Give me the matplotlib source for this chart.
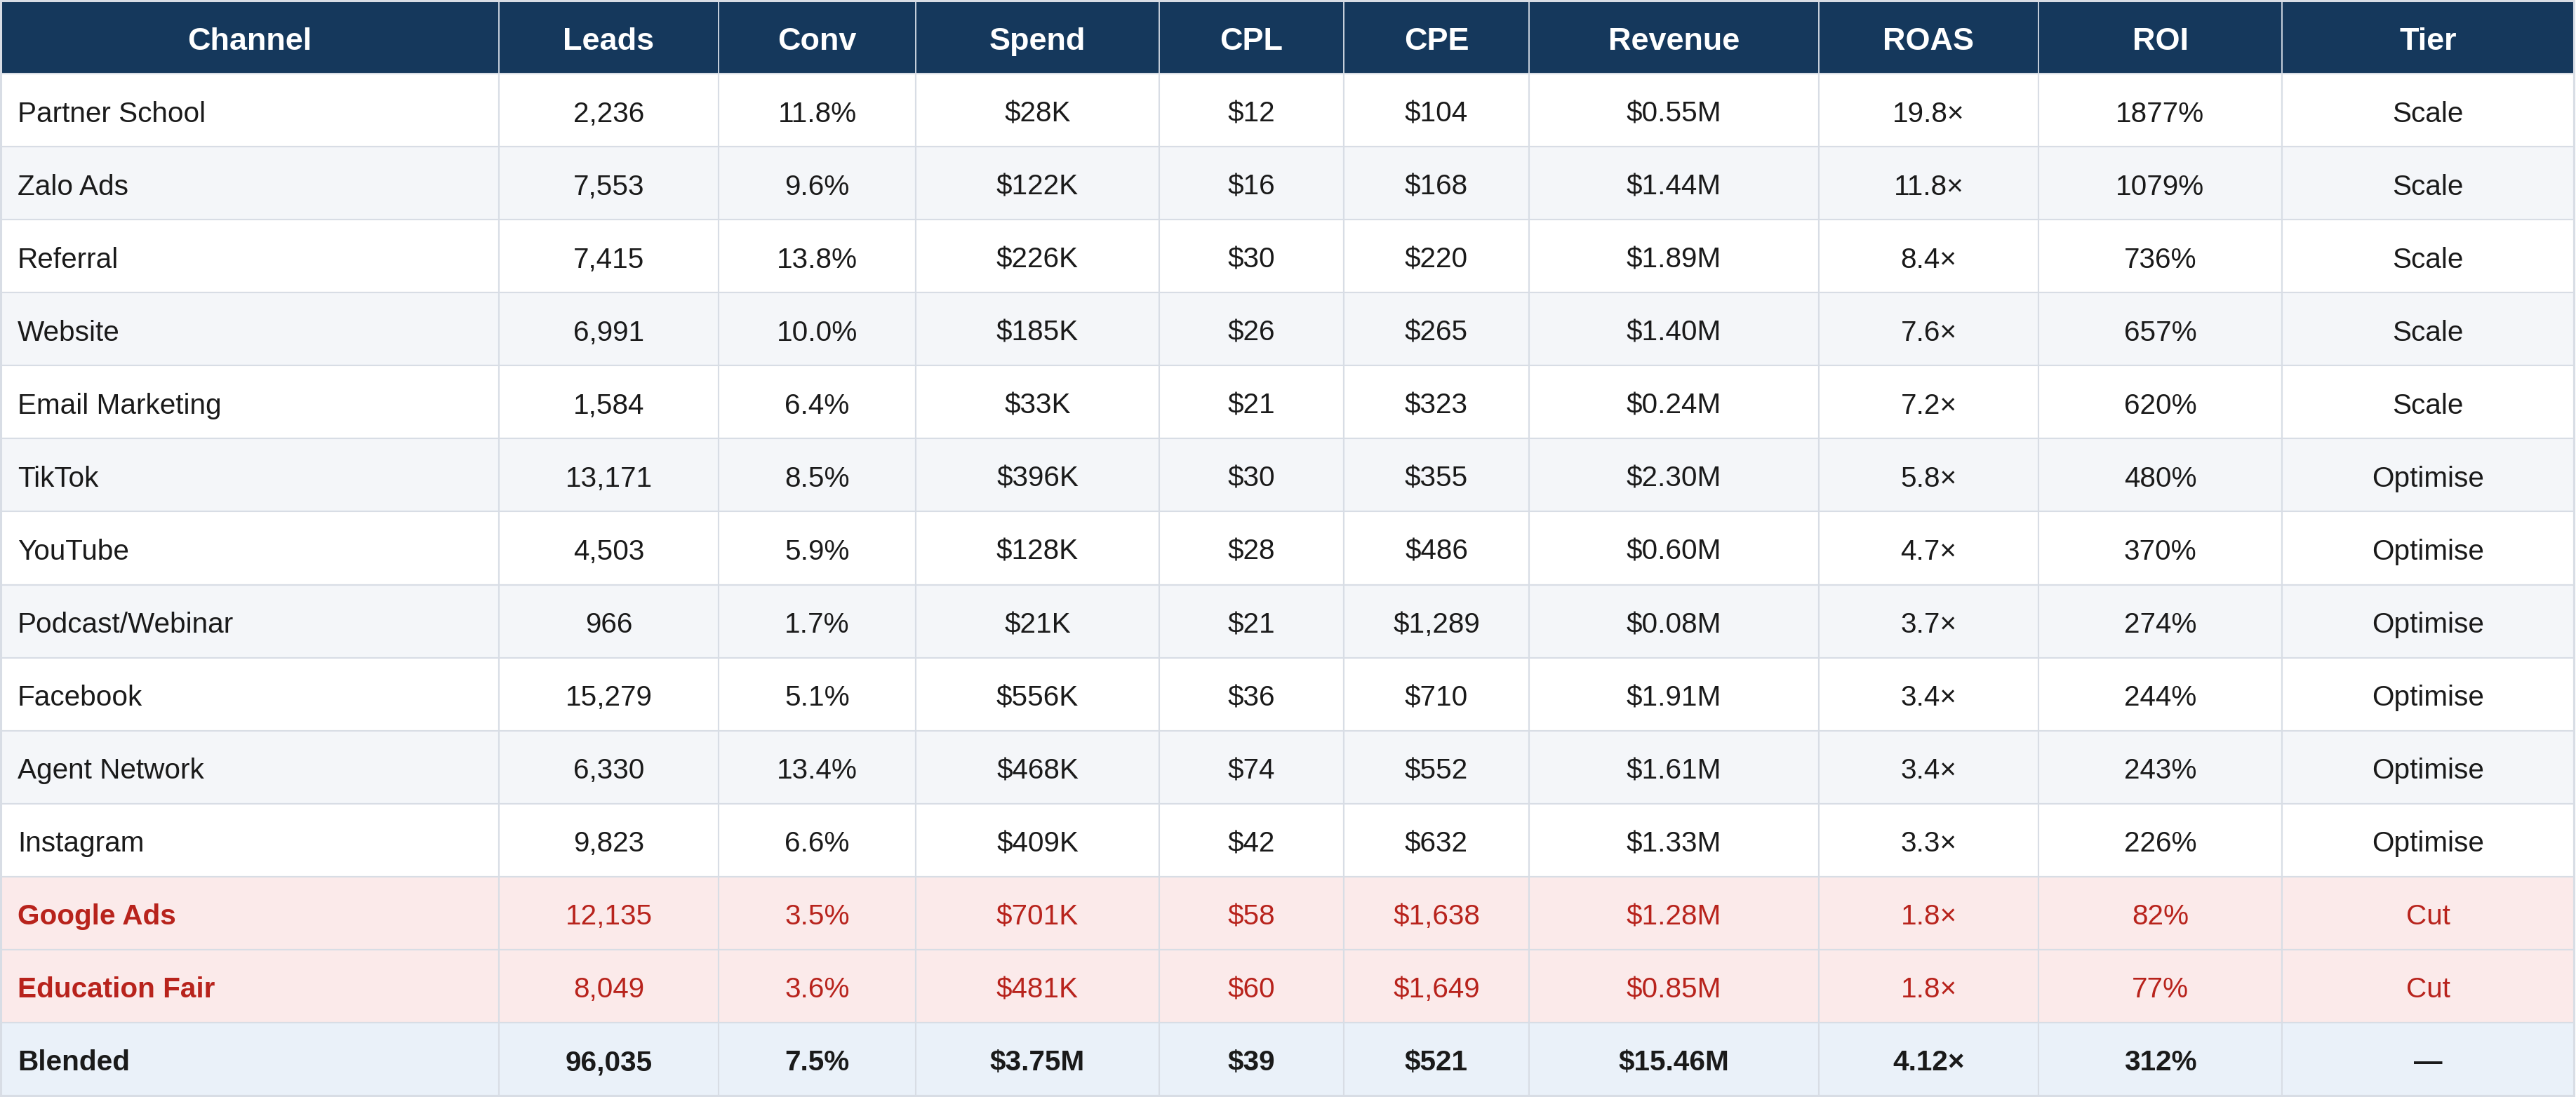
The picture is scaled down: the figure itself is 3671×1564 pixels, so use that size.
import matplotlib
matplotlib.use("Agg")
import matplotlib.pyplot as plt
from matplotlib.patches import Rectangle

# ---------------- data ----------------
columns = ["Channel", "Leads", "Conv", "Spend", "CPL", "CPE", "Revenue", "ROAS", "ROI", "Tier"]
channels = ["Partner School", "Zalo Ads", "Referral", "Website", "Email Marketing", "TikTok",
            "YouTube", "Podcast/Webinar", "Facebook", "Agent Network", "Instagram",
            "Google Ads", "Education Fair", "Blended"]
leads = ["2,236", "7,553", "7,415", "6,991", "1,584", "13,171", "4,503", "966", "15,279",
         "6,330", "9,823", "12,135", "8,049", "96,035"]
conv = ["11.8%", "9.6%", "13.8%", "10.0%", "6.4%", "8.5%", "5.9%", "1.7%", "5.1%", "13.4%",
        "6.6%", "3.5%", "3.6%", "7.5%"]
spend = ["$28K", "$122K", "$226K", "$185K", "$33K", "$396K", "$128K", "$21K", "$556K",
         "$468K", "$409K", "$701K", "$481K", "$3.75M"]
cpl = ["$12", "$16", "$30", "$26", "$21", "$30", "$28", "$21", "$36", "$74", "$42", "$58",
       "$60", "$39"]
cpe = ["$104", "$168", "$220", "$265", "$323", "$355", "$486", "$1,289", "$710", "$552",
       "$632", "$1,638", "$1,649", "$521"]
revenue = ["$0.55M", "$1.44M", "$1.89M", "$1.40M", "$0.24M", "$2.30M", "$0.60M", "$0.08M",
           "$1.91M", "$1.61M", "$1.33M", "$1.28M", "$0.85M", "$15.46M"]
roas = ["19.8×", "11.8×", "8.4×", "7.6×", "7.2×", "5.8×", "4.7×", "3.7×", "3.4×", "3.4×",
        "3.3×", "1.8×", "1.8×", "4.12×"]
roi = ["1877%", "1079%", "736%", "657%", "620%", "480%", "370%", "274%", "244%", "243%",
       "226%", "82%", "77%", "312%"]
tier = ["Scale", "Scale", "Scale", "Scale", "Scale", "Optimise", "Optimise", "Optimise",
        "Optimise", "Optimise", "Optimise", "Cut", "Cut", "—"]

table_cols = [channels, leads, conv, spend, cpl, cpe, revenue, roas, roi, tier]

# ---------------- layout / style ----------------
W, H = 3671, 1564
col_edges = [1, 711, 1024, 1305, 1652, 1915, 2179, 2592, 2905, 3252, 3668]
n_rows = len(channels) + 1
top, bottom = 1, 1562
row_h = (bottom - top) / n_rows

HEADER_BG = "#15385c"
ROW_BG = ["#ffffff", "#f4f6f9"]
CUT_BG = "#fbeaea"
BLEND_BG = "#eaf1f9"
GRID = "#d8dde5"
HEADER_GRID = "#c5cfdb"
TEXT = "#1a1a1a"
RED = "#b8231c"

body_px = 40.5
head_px = 45.0
px2pt = 72 / 100

plt.rcParams['font.family'] = ['Liberation Sans', 'DejaVu Sans']

fig = plt.figure(figsize=(W / 100, H / 100), dpi=100)
ax = fig.add_axes([0, 0, 1, 1])
ax.set_xlim(0, W)
ax.set_ylim(H, 0)
ax.axis("off")
fig.patch.set_facecolor("white")


def baseline(yc, px):
    return yc + 0.358 * px + 2


# header
for j, name in enumerate(columns):
    x0, x1 = col_edges[j], col_edges[j + 1]
    ax.add_patch(Rectangle((x0, top), x1 - x0, row_h, facecolor=HEADER_BG,
                           edgecolor=HEADER_GRID, linewidth=1.4))
    yc = top + row_h / 2
    ax.text((x0 + x1) / 2, baseline(yc, head_px), name, color="white",
            fontsize=head_px * px2pt, fontweight="bold", ha="center", va="baseline")

# body
for i in range(len(channels)):
    tier_i = tier[i]
    is_cut = tier_i == "Cut"
    is_blend = channels[i] == "Blended"
    if is_blend:
        bg = BLEND_BG
    elif is_cut:
        bg = CUT_BG
    else:
        bg = ROW_BG[i % 2]
    y0 = top + (i + 1) * row_h
    yc = y0 + row_h / 2
    for j, col in enumerate(table_cols):
        x0, x1 = col_edges[j], col_edges[j + 1]
        ax.add_patch(Rectangle((x0, y0), x1 - x0, row_h, facecolor=bg,
                               edgecolor=GRID, linewidth=1.5))
        color = RED if is_cut else TEXT
        bold = is_blend or (is_cut and j == 0)
        if j == 0:
            xt, ha = x0 + 24, "left"
        else:
            xt, ha = (x0 + x1) / 2, "center"
        ax.text(xt, baseline(yc, body_px), col[i], color=color,
                fontsize=body_px * px2pt, fontweight="bold" if bold else "normal",
                ha=ha, va="baseline")

# outer border
ax.add_patch(Rectangle((col_edges[0], top), col_edges[-1] - col_edges[0], bottom - top,
                       facecolor="none", edgecolor=GRID, linewidth=2.2))

fig.savefig("out.png", dpi=100)
